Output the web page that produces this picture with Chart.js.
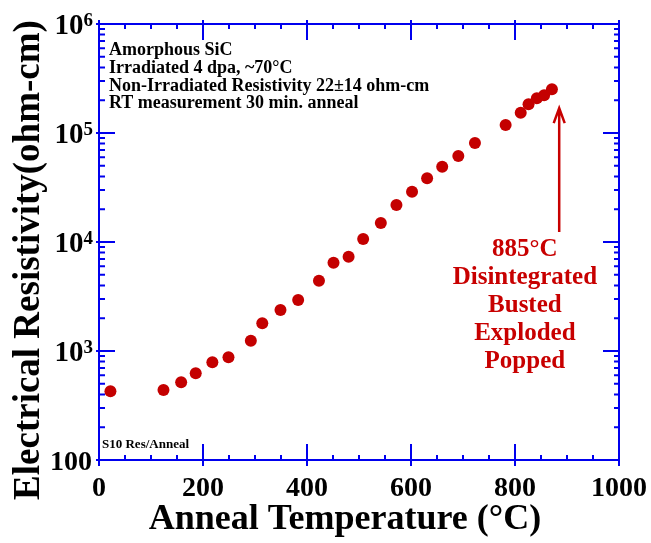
<!doctype html>
<html>
<head>
<title>Amorphous SiC resistivity vs anneal temperature</title>
<script src="https://cdn.jsdelivr.net/npm/chart.js@4.4.1/dist/chart.umd.min.js"></script>
<style>
    html, body { margin: 0; padding: 0; background: #fff; }
    #wrap { width: 651px; height: 543px; }
</style>
</head>
<body>
<div id="wrap"><canvas id="chart" width="651" height="543"></canvas></div>
<script>
// anneal temperature (C) and resistivity (ohm-cm)
var temps  = [22, 124, 158, 186, 218, 249, 292, 314, 349, 383, 423, 451, 480,
              508, 542, 572, 602, 631, 660, 691, 723, 782, 811, 826, 842, 856, 871];
var resist = [427, 439, 516, 624, 788, 875, 1243, 1795, 2379, 2937, 4416, 6457, 7330,
              10660, 14940, 21850, 28920, 38380, 49100, 61500, 80900, 118400, 153600,
              183300, 208000, 221800, 251800];

var xTicks = [0, 200, 400, 600, 800, 1000];
var yTicks = [100, 1e3, 1e4, 1e5, 1e6];

var xTitle = 'Anneal Temperature (°C)';
var yTitle = 'Electrical Resistivity(ohm-cm)';
var notes = ['Amorphous SiC', 'Irradiated 4 dpa, ~70°C',
             'Non-Irradiated Resistivity 22±14 ohm-cm', 'RT measurement 30 min. anneal'];
var failNote = ['885°C', 'Disintegrated', 'Busted', 'Exploded', 'Popped'];
var failTemp = 885;
var tag = 'S10 Res/Anneal';

var FONT = '"Liberation Serif", "Times New Roman", serif';
var BLUE = '#0000ee';
var RED = '#c80000';

var framePlugin = {
    id: 'frame',
    afterDatasetsDraw: function(chart) {
        var c = chart.ctx, a = chart.chartArea;
        var xs = chart.scales.x, ys = chart.scales.y;
        c.save();
        c.strokeStyle = BLUE;
        c.lineWidth = 2;
        c.beginPath();
        c.rect(a.left, a.top, a.right - a.left, a.bottom - a.top);
        // x ticks, bottom and top
        for (var v = 0; v <= 1000; v += 50) {
            var px = xs.getPixelForValue(v);
            var major = xTicks.indexOf(v) >= 0;
            var len = major ? 16 : 5;
            c.moveTo(px, a.bottom + (major ? 6 : 0)); c.lineTo(px, a.bottom - len);
            c.moveTo(px, a.top - (major ? 4 : 0)); c.lineTo(px, a.top + len);
        }
        // y ticks, left and right
        for (var d = 100; d < 1e6; d *= 10) {
            for (var k = 1; k <= 10; k++) {
                var py = ys.getPixelForValue(d * k);
                var maj = (k == 1 || k == 10);
                var l = maj ? 16 : 6;
                c.moveTo(a.left - (maj ? 3 : 0), py); c.lineTo(a.left + l, py);
                c.moveTo(a.right, py); c.lineTo(a.right - (maj ? 16 : 5), py);
            }
        }
        c.stroke();

        // y tick labels with exponents
        c.fillStyle = '#000';
        c.textAlign = 'right';
        c.textBaseline = 'alphabetic';
        yTicks.forEach(function(v) {
            var py = ys.getPixelForValue(v);
            var exp = Math.round(Math.log10(v));
            if (v == 100) {
                c.font = 'bold 28px ' + FONT;
                c.fillText('100', a.left - 7, py + 10);
            } else {
                c.font = 'bold 19px ' + FONT;
                var ew = c.measureText(String(exp)).width;
                c.fillText(String(exp), a.left - 6, py + 2);
                c.font = 'bold 29px ' + FONT;
                c.fillText('10', a.left - 6 - ew, py + 10);
            }
        });

        // axis titles
        c.textAlign = 'center';
        c.textBaseline = 'middle';
        c.font = 'bold 36px ' + FONT;
        c.fillText(xTitle, 345, 520);
        c.save();
        c.translate(29, 260);
        c.rotate(-Math.PI / 2);
        c.font = 'bold 37px ' + FONT;
        c.fillText(yTitle, 0, 0);
        c.restore();

        // sample notes
        c.textAlign = 'left';
        c.textBaseline = 'alphabetic';
        c.font = 'bold 18px ' + FONT;
        notes.forEach(function(t, i) {
            c.fillText(t, a.left + 10, 55 + i * 17.8);
        });
        c.font = 'bold 13px ' + FONT;
        c.fillText(tag, a.left + 3, a.bottom - 12);

        // failure arrow + note
        var ax = xs.getPixelForValue(failTemp);
        var tipY = ys.getPixelForValue(169000);
        var baseY = ys.getPixelForValue(12360);
        c.strokeStyle = RED;
        c.lineWidth = 2.5;
        c.beginPath();
        c.moveTo(ax, baseY); c.lineTo(ax, tipY);
        c.moveTo(ax - 5.5, tipY + 15); c.lineTo(ax, tipY); c.lineTo(ax + 5.5, tipY + 15);
        c.stroke();
        c.fillStyle = RED;
        c.textAlign = 'center';
        c.textBaseline = 'middle';
        c.font = 'bold 25px ' + FONT;
        var nx = xs.getPixelForValue(819);
        var ny = ys.getPixelForValue(8450);
        failNote.forEach(function(t, i) {
            c.fillText(t, nx, ny + i * 28);
        });
        c.restore();
    }
};

new Chart(document.getElementById('chart'), {
    type: 'scatter',
    data: {
        datasets: [{
            data: temps.map(function(t, i) { return {x: t, y: resist[i]}; }),
            backgroundColor: '#c40000',
            borderColor: '#c40000',
            pointRadius: 6,
            pointHoverRadius: 6,
            borderWidth: 0
        }]
    },
    options: {
        responsive: false,
        devicePixelRatio: 1,
        animation: false,
        events: [],
        layout: { padding: { top: 24, right: 32, left: 0, bottom: 0 } },
        plugins: { legend: { display: false }, tooltip: { enabled: false } },
        scales: {
            x: {
                type: 'linear', min: 0, max: 1000,
                grid: { display: false, drawTicks: false },
                border: { display: false },
                afterBuildTicks: function(s) { s.ticks = xTicks.map(function(v) { return {value: v}; }); },
                ticks: {
                    color: '#000', padding: 12,
                    font: { family: FONT, size: 28, weight: 'bold' },
                    callback: function(v) { return String(v); }
                },
                afterFit: function(s) { s.height = 83; s.paddingRight = 0; s.paddingLeft = 0; }
            },
            y: {
                type: 'logarithmic', min: 100, max: 1e6,
                grid: { display: false, drawTicks: false },
                border: { display: false },
                afterBuildTicks: function(s) { s.ticks = yTicks.map(function(v) { return {value: v}; }); },
                ticks: { display: false },
                afterFit: function(s) { s.width = 99; }
            }
        }
    },
    plugins: [framePlugin]
});
</script>
</body>
</html>
